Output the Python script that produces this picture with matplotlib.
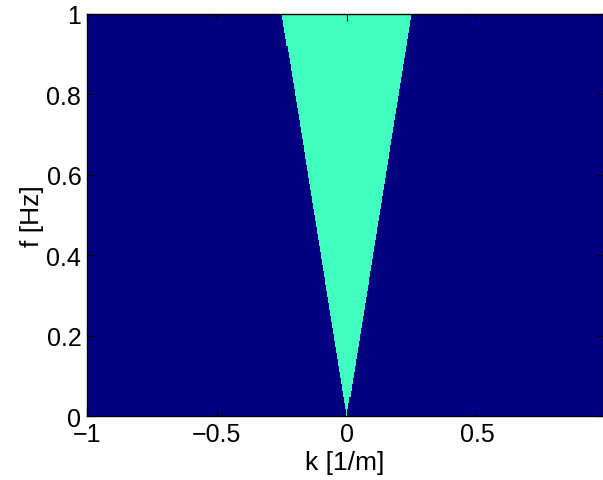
import numpy as np
import matplotlib.pyplot as plt
from matplotlib.colors import ListedColormap

plt.rcParams['font.family'] = ['Liberation Sans', 'DejaVu Sans']

# wavenumber / frequency grid of the f-k mask
k = np.linspace(-1, 1, 512, endpoint=False)
f = np.linspace(0, 1, 400)
slope = 0.25  # |k| / f at the cone edge (1/m per Hz)
k_max = 1 - 2 / 128  # last wavenumber sample shown

kk, ff = np.meshgrid(k, f)
mask = (np.abs(kk) <= slope * ff).astype(float)

cmap = ListedColormap(['#000080', '#40FFBF'])

fig = plt.figure(figsize=(6.03, 4.81), dpi=100)
ax = fig.add_axes([0.144, 0.133, 0.856, 0.836])
ax.pcolormesh(k, f, mask, cmap=cmap, shading='nearest', vmin=0, vmax=1)
ax.set_xlim(-1, k_max)
ax.set_ylim(0, 1)
ax.set_xticks([-1, -0.5, 0, 0.5])
ax.set_xticklabels(['\u22121', '\u22120.5', '0', '0.5'])
ax.set_yticks([0, 0.2, 0.4, 0.6, 0.8, 1])
ax.set_yticklabels(['0', '0.2', '0.4', '0.6', '0.8', '1'])
ax.tick_params(direction='in', length=5, labelsize=18, top=True, right=True, pad=4)
ax.set_xlabel('k [1/m]', fontsize=19, labelpad=3)
ax.set_ylabel('f [Hz]', fontsize=19, labelpad=2)
for s in ax.spines.values():
    s.set_linewidth(1.0)

fig.savefig('out.png', dpi=100)
